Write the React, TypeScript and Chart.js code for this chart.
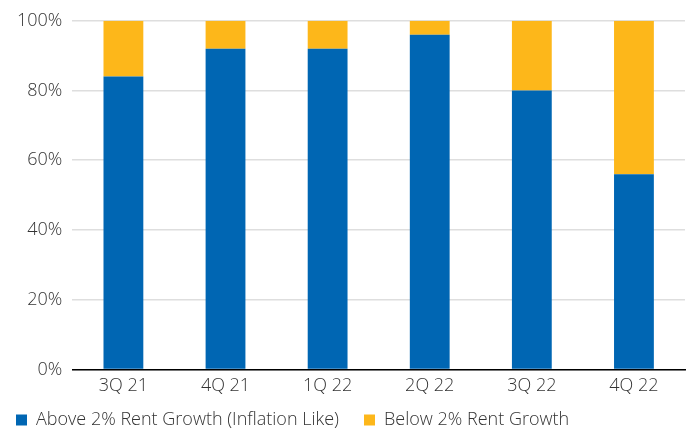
import React, { useEffect, useRef } from "react";
import { Chart, registerables } from "chart.js";

Chart.register(...registerables);

const categories = ["3Q 21", "4Q 21", "1Q 22", "2Q 22", "3Q 22", "4Q 22"];
const aboveValues = [84, 92, 92, 96, 80, 56];
const belowValues = [16, 8, 8, 4, 20, 44];
const seriesNames = ["Above 2% Rent Growth (Inflation Like)", "Below 2% Rent Growth"];

const FONT = { family: "Open Sans", size: 18, weight: 300 as any };
const LEGEND_PAD = 25;

const legendPlacer = {
  id: "legendPlacer",
  beforeUpdate(chart: any) {
    const leg = chart.legend;
    if (leg && !leg._patched) {
      const f = leg.fit;
      leg.fit = function () {
        f.call(this);
        this.height = 26;
      };
      leg._patched = true;
    }
  },
  afterLayout(chart: any) {
    const leg = chart.legend;
    if (leg) {
      leg.top -= 17;
      leg.left = 16 - LEGEND_PAD;
    }
  },
};

export default function App() {
  const ref = useRef<HTMLCanvasElement>(null);
  useEffect(() => {
    document.body.style.margin = "0";
    const ctx = ref.current!.getContext("2d")!;
    const chart = new Chart(ctx, {
      type: "bar",
      data: {
        labels: categories,
        datasets: [
          { label: seriesNames[0], data: aboveValues, backgroundColor: "#0066b3", borderWidth: 0 },
          { label: seriesNames[1], data: belowValues, backgroundColor: "#fdb71a", borderWidth: 0 },
        ],
      },
      options: {
        responsive: false,
        animation: false,
        layout: { padding: { left: 7, right: 5, top: 11, bottom: 0 } },
        datasets: { bar: { categoryPercentage: 1, barPercentage: 0.39 } },
        plugins: {
          legend: {
            position: "bottom",
            align: "start",
            labels: {
              boxWidth: 11,
              boxHeight: 11,
              color: "#333",
              font: FONT,
              padding: LEGEND_PAD,
            },
          },
          tooltip: { enabled: false },
        },
        scales: {
          x: {
            stacked: true,
            grid: { display: false, drawTicks: false },
            border: { color: "#000", width: 1.5 },
            ticks: { color: "#333", font: FONT, padding: 6 },
          },
          y: {
            stacked: true,
            min: 0,
            max: 100,
            grid: { color: "#dedede", lineWidth: 1.5, drawTicks: false },
            border: { display: false },
            ticks: {
              stepSize: 20,
              color: "#333",
              font: FONT,
              padding: 10,
              callback: (v: any) => v + "%",
            },
          },
        },
      },
      plugins: [legendPlacer],
    });
    return () => chart.destroy();
  }, []);
  return (
    <div style={{ width: 690, height: 429 }}>
      <canvas ref={ref} width={690} height={429} />
    </div>
  );
}
